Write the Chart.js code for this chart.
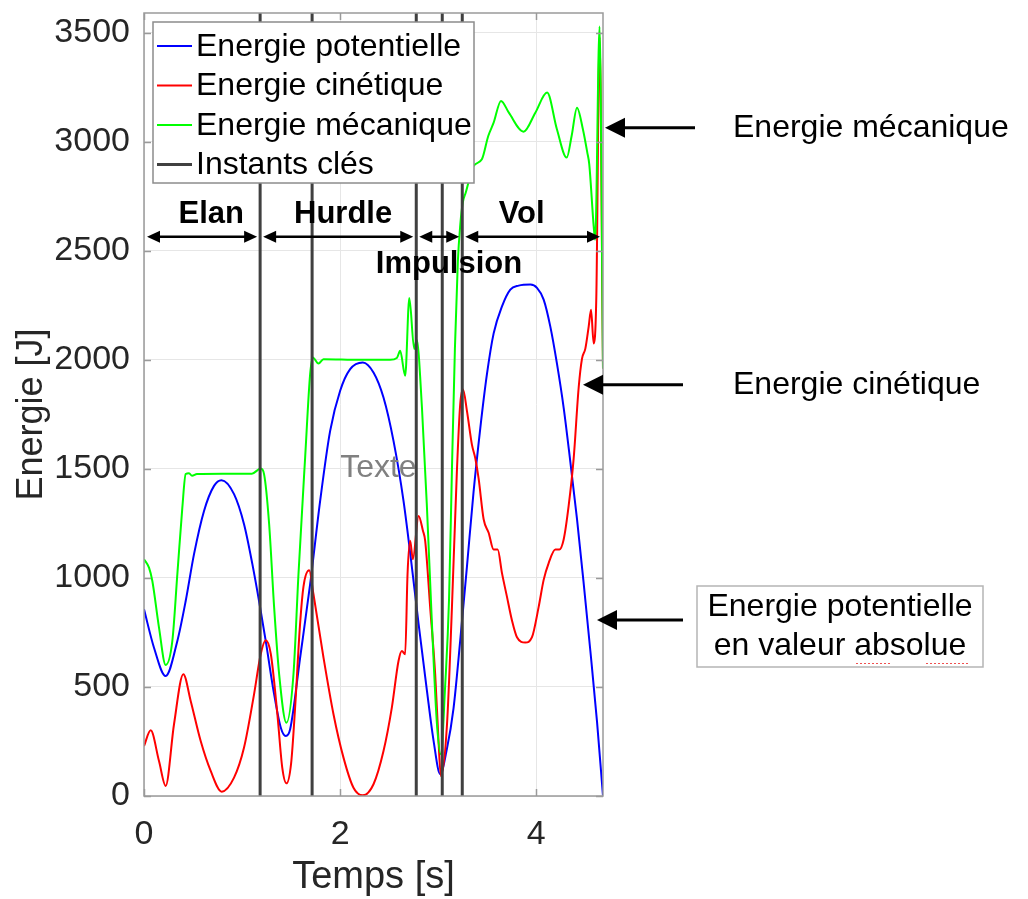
<!DOCTYPE html>
<html>
<head>
<meta charset="utf-8">
<script src="https://cdn.jsdelivr.net/npm/chart.js@4.4.1/dist/chart.umd.min.js"></script>
<style>
  body { margin: 0; background: #fff; }
</style>
</head>
<body>
<canvas id="energyChart" width="1028" height="899"></canvas>
<script>
// --- Data (time in s, energy in J) ---
const tPot = [0, 0.102, 0.221, 0.34, 0.425, 0.51, 0.612, 0.714, 0.79, 0.918, 1.02, 1.105, 1.173, 1.241, 1.327, 1.395, 1.446, 1.49, 1.592, 1.694, 1.796, 1.898, 2.0, 2.102, 2.231, 2.34, 2.442, 2.544, 2.646, 2.732, 2.80, 2.885, 2.953, 3.02, 3.089, 3.156, 3.224, 3.293, 3.36, 3.429, 3.497, 3.565, 3.65, 3.735, 3.82, 3.94, 4.007, 4.075, 4.143, 4.211, 4.279, 4.347, 4.415, 4.483, 4.551, 4.619, 4.68];
const ePot = [856, 680, 550, 711, 894, 1109, 1307, 1422, 1448, 1384, 1246, 1063, 894, 711, 466, 313, 275, 306, 635, 971, 1353, 1674, 1858, 1957, 1988, 1942, 1827, 1628, 1353, 1047, 788, 482, 252, 100, 217, 402, 712, 1053, 1393, 1687, 1935, 2121, 2245, 2322, 2340, 2345, 2330, 2276, 2152, 1981, 1780, 1532, 1269, 975, 666, 341, 0];

const tCin = [0, 0.068, 0.153, 0.221, 0.306, 0.401, 0.476, 0.578, 0.68, 0.793, 0.918, 1.02, 1.122, 1.19, 1.241, 1.293, 1.36, 1.41, 1.452, 1.50, 1.54, 1.59, 1.626, 1.684, 1.728, 1.83, 1.932, 2.034, 2.136, 2.231, 2.34, 2.442, 2.527, 2.595, 2.629, 2.663, 2.687, 2.714, 2.741, 2.80, 2.844, 2.867, 2.918, 2.969, 3.003, 3.027, 3.089, 3.14, 3.19, 3.224, 3.252, 3.293, 3.344, 3.378, 3.412, 3.463, 3.514, 3.565, 3.606, 3.65, 3.701, 3.752, 3.803, 3.888, 3.956, 4.024, 4.075, 4.126, 4.194, 4.235, 4.279, 4.33, 4.381, 4.432, 4.466, 4.50, 4.534, 4.558, 4.585, 4.612, 4.645, 4.68];
const eCin = [229, 301, 160, 46, 329, 558, 436, 252, 115, 20, 84, 222, 466, 650, 714, 651, 374, 129, 58, 150, 400, 780, 960, 1035, 925, 635, 375, 176, 38, 3, 54, 206, 405, 619, 665, 650, 1017, 1170, 1086, 1284, 1216, 1170, 864, 558, 252, 92, 325, 867, 1486, 1796, 1865, 1765, 1610, 1548, 1455, 1269, 1207, 1130, 1130, 1022, 913, 805, 728, 704, 728, 867, 991, 1068, 1130, 1130, 1176, 1331, 1548, 1873, 2005, 2051, 2152, 2229, 2075, 2291, 3480, 1960];

const tMec = [0, 0.051, 0.085, 0.153, 0.221, 0.289, 0.34, 0.391, 0.425, 0.459, 0.49, 0.54, 0.80, 1.10, 1.19, 1.224, 1.276, 1.327, 1.378, 1.452, 1.524, 1.575, 1.643, 1.694, 1.721, 1.779, 1.83, 2.20, 2.51, 2.578, 2.612, 2.663, 2.705, 2.755, 2.78, 2.834, 2.885, 2.936, 2.987, 3.027, 3.07, 3.11, 3.14, 3.17, 3.20, 3.225, 3.25, 3.28, 3.36, 3.445, 3.51, 3.565, 3.64, 3.72, 3.87, 3.99, 4.11, 4.21, 4.31, 4.36, 4.415, 4.475, 4.52, 4.54, 4.585, 4.60, 4.645, 4.68];
const eMec = [1086, 1047, 986, 772, 601, 711, 1017, 1323, 1476, 1480, 1468, 1476, 1478, 1478, 1501, 1476, 1246, 864, 558, 336, 558, 1017, 1552, 1934, 2011, 1983, 2003, 2000, 2000, 2008, 2041, 1927, 2283, 2050, 2092, 1781, 1323, 788, 329, 191, 500, 900, 1500, 2050, 2450, 2620, 2720, 2766, 2888, 2919, 3026, 3087, 3187, 3133, 3046, 3133, 3225, 3057, 2927, 3026, 3156, 3057, 2950, 2896, 2613, 2550, 3528, 1960];

const keyInstants = [1.184, 1.714, 2.776, 3.041, 3.245];

const xTicks = [0, 2, 4];
const yTicks = [0, 500, 1000, 1500, 2000, 2500, 3000, 3500];
const xMax = 4.68;
const yMax = 3590;

const seriesLabels = ['Energie potentielle', 'Energie cinétique', 'Energie mécanique', 'Instants clés'];
const seriesColors = ['#0000ff', '#ff0000', '#00ff00', '#404040'];

const FONT = "'Liberation Sans', Arial, Helvetica, sans-serif";
const INK = '#262626';

function toPoints(ts, es) {
    return ts.map((t, i) => ({ x: t, y: es[i] }));
}

// vertical lines for the key instants, separated by gaps
const instantPoints = keyInstants.flatMap(t => [{ x: t, y: 0 }, { x: t, y: yMax }, { x: t, y: null }]);

// --- Annotations drawn on top of the plot ---
function arrowHead(ctx, x, y, dir, len, half) {
    ctx.beginPath();
    ctx.moveTo(x, y);
    ctx.lineTo(x - dir * len, y - half);
    ctx.lineTo(x - dir * len, y + half);
    ctx.closePath();
    ctx.fill();
}

function doubleArrow(ctx, x1, x2, y) {
    ctx.lineWidth = 2.5;
    ctx.beginPath();
    ctx.moveTo(x1 + 6, y);
    ctx.lineTo(x2 - 6, y);
    ctx.stroke();
    arrowHead(ctx, x1, y, -1, 13, 6);
    arrowHead(ctx, x2, y, 1, 13, 6);
}

const decorations = {
    id: 'decorations',
    beforeDraw(chart) {
        const ctx = chart.ctx;
        ctx.save();
        ctx.fillStyle = '#fff';
        ctx.fillRect(0, 0, chart.width, chart.height);
        ctx.restore();
    },
    afterDraw(chart) {
        const ctx = chart.ctx;
        const area = chart.chartArea;
        const xs = chart.scales.x, ys = chart.scales.y;
        const px = v => xs.getPixelForValue(v);
        const py = v => ys.getPixelForValue(v);
        ctx.save();

        // axes box and inward ticks
        ctx.strokeStyle = '#9a9a9a';
        ctx.lineWidth = 1.5;
        ctx.strokeRect(area.left, area.top, area.right - area.left, area.bottom - area.top);
        ctx.beginPath();
        yTicks.forEach(v => {
            const y = Math.round(py(v)) + 0.5;
            ctx.moveTo(area.left, y); ctx.lineTo(area.left + 7, y);
            ctx.moveTo(area.right, y); ctx.lineTo(area.right - 7, y);
        });
        xTicks.forEach(v => {
            const x = Math.round(px(v)) + 0.5;
            ctx.moveTo(x, area.bottom); ctx.lineTo(x, area.bottom - 7);
            ctx.moveTo(x, area.top); ctx.lineTo(x, area.top + 7);
        });
        ctx.stroke();

        // phase arrows and labels
        ctx.fillStyle = '#000';
        ctx.strokeStyle = '#000';
        const bounds = [0, keyInstants[0], keyInstants[2], keyInstants[4], xMax];
        const arrowY = py(2564);
        for (let i = 0; i < bounds.length - 1; i++) {
            doubleArrow(ctx, px(bounds[i]) + 3, px(bounds[i + 1]) - 3, arrowY);
        }
        ctx.font = 'bold 31px ' + FONT;
        ctx.textAlign = 'center';
        ctx.textBaseline = 'middle';
        ctx.fillText('Elan', px(0.686), py(2665));
        ctx.fillText('Hurdle', px(2.03), py(2665));
        ctx.fillText('Vol', px(3.85), py(2665));
        ctx.fillText('Impulsion', px(3.11), py(2436));

        ctx.font = '32px ' + FONT;
        ctx.fillStyle = '#808080';
        ctx.fillText('Texte', px(2.39), py(1505));

        // legend
        const lx = 153, ly = 22, lw = 321, lh = 161;
        ctx.fillStyle = '#fff';
        ctx.fillRect(lx, ly, lw, lh);
        ctx.strokeStyle = '#8c8c8c';
        ctx.lineWidth = 1.5;
        ctx.strokeRect(lx, ly, lw, lh);
        ctx.font = '32px ' + FONT;
        ctx.textAlign = 'left';
        seriesLabels.forEach((label, i) => {
            const y = ly + 24 + i * 39.5;
            ctx.strokeStyle = seriesColors[i];
            ctx.lineWidth = i === 3 ? 3 : 2;
            ctx.beginPath();
            ctx.moveTo(lx + 4, y); ctx.lineTo(lx + 39, y);
            ctx.stroke();
            ctx.fillStyle = '#000';
            ctx.fillText(label, lx + 43, y + 1);
        });

        // callouts on the right
        ctx.fillStyle = '#000';
        ctx.strokeStyle = '#000';
        const callouts = [
            { text: 'Energie mécanique', e: 3064, from: 695, tip: 605 },
            { text: 'Energie cinétique', e: 1885, from: 683, tip: 583 },
            { text: null, e: 807, from: 683, tip: 597 }
        ];
        callouts.forEach(c => {
            const y = py(c.e);
            ctx.lineWidth = 3;
            ctx.beginPath();
            ctx.moveTo(c.from, y); ctx.lineTo(c.tip + 16, y);
            ctx.stroke();
            arrowHead(ctx, c.tip, y, -1, 20, 10);
            if (c.text) {
                ctx.textAlign = 'left';
                ctx.fillText(c.text, 733, y);
            }
        });

        // boxed callout
        ctx.strokeStyle = '#b5b5b5';
        ctx.lineWidth = 1.5;
        ctx.strokeRect(697, 586, 286, 81);
        ctx.fillStyle = '#000';
        ctx.textAlign = 'center';
        ctx.fillText('Energie potentielle', 840, 607);
        ctx.fillText('en valeur absolue', 840, 646);
        // spell-check style dotted underline
        ctx.strokeStyle = '#f05050';
        ctx.lineWidth = 1.2;
        ctx.setLineDash([2, 2]);
        ctx.beginPath();
        ctx.moveTo(856, 663.5); ctx.lineTo(892, 663.5);
        ctx.moveTo(926, 663.5); ctx.lineTo(968, 663.5);
        ctx.stroke();
        ctx.setLineDash([]);

        ctx.restore();
    }
};

const ctx = document.getElementById('energyChart').getContext('2d');
const chart = new Chart(ctx, {
    type: 'line',
    data: {
        datasets: [
            { label: seriesLabels[0], data: toPoints(tPot, ePot), borderColor: seriesColors[0], order: 4 },
            { label: seriesLabels[1], data: toPoints(tCin, eCin), borderColor: seriesColors[1], order: 3 },
            { label: seriesLabels[2], data: toPoints(tMec, eMec), borderColor: seriesColors[2], order: 2 },
            { label: seriesLabels[3], data: instantPoints, borderColor: seriesColors[3], borderWidth: 3, cubicInterpolationMode: 'default', spanGaps: false, order: 1 }
        ]
    },
    options: {
        responsive: false,
        animation: false,
        events: [],
        layout: { padding: { top: 13, right: 425, left: 0, bottom: 0 } },
        plugins: { legend: { display: false }, tooltip: { enabled: false } },
        elements: {
            point: { radius: 0 },
            line: { borderWidth: 2, cubicInterpolationMode: 'monotone', fill: false }
        },
        scales: {
            x: {
                type: 'linear',
                min: 0,
                max: xMax,
                afterBuildTicks: s => { s.ticks = xTicks.map(v => ({ value: v })); },
                afterFit: s => { s.height = 103; s.paddingLeft = 0; s.paddingRight = 0; },
                grid: { color: '#e6e6e6', drawTicks: false },
                border: { display: false },
                ticks: { padding: 18, color: INK, font: { family: FONT, size: 34 }, callback: v => String(v) },
                title: { display: true, text: 'Temps [s]', color: INK, font: { family: FONT, size: 38, lineHeight: 1 }, padding: { top: 0, bottom: 2 } }
            },
            y: {
                min: 0,
                max: yMax,
                afterBuildTicks: s => { s.ticks = yTicks.map(v => ({ value: v })); },
                afterFit: s => { s.width = 144; s.paddingTop = 0; s.paddingBottom = 0; },
                grid: { color: '#e6e6e6', drawTicks: false },
                border: { display: false },
                ticks: { padding: 14, color: INK, font: { family: FONT, size: 34 }, callback: v => String(v) },
                title: { display: true, text: 'Energie [J]  ', color: INK, font: { family: FONT, size: 36, lineHeight: 1 }, padding: { top: 14, bottom: 0 } }
            }
        }
    },
    plugins: [decorations]
});
</script>
</body>
</html>
